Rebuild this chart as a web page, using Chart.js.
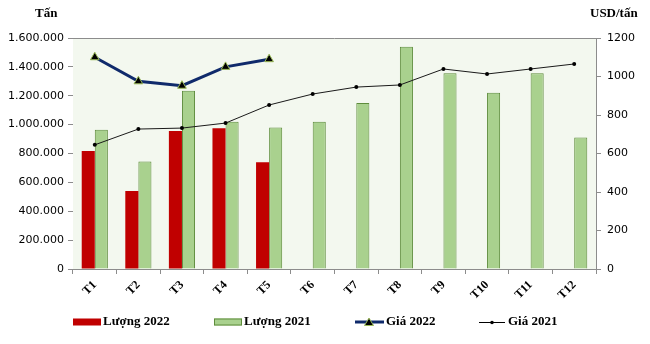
<!DOCTYPE html>
<html>
<head>
<meta charset="utf-8">
<script src="https://cdn.jsdelivr.net/npm/chart.js@4"></script>
<style>
  html, body { margin: 0; padding: 0; background: #fff; }
  #wrap { width: 650px; height: 344px; }
</style>
</head>
<body>
<div id="wrap"><canvas id="chart"></canvas></div>
<script>
const months = ['T1', 'T2', 'T3', 'T4', 'T5', 'T6', 'T7', 'T8', 'T9', 'T10', 'T11', 'T12'];
const luong2022 = [817000, 540000, 955000, 975000, 740000];
const luong2021 = [965000, 745000, 1235000, 1020000, 980000, 1020000, 1150000, 1540000, 1355000, 1220000, 1355000, 910000];
const gia2022 = [1100, 975, 952, 1050, 1090];
const gia2021 = [645, 727, 732, 758, 852, 909, 945, 956, 1039, 1013, 1039, 1065];

const serifBold = 'bold 13px "Liberation Serif", "Times New Roman", serif';

function dotted(n) {
  return String(n).replace(/\B(?=(\d{3})+(?!\d))/g, '.');
}

const frame = {
  id: 'frame',
  beforeDatasetsDraw(chart) {
    const { ctx, chartArea: a } = chart;
    ctx.save();
    ctx.fillStyle = '#f3f8ef';
    ctx.fillRect(a.left, a.top, a.right - a.left, a.bottom - a.top);
    ctx.strokeStyle = '#8c8c8c';
    ctx.lineWidth = 1;
    ctx.beginPath();
    ctx.moveTo(a.left, a.top + 0.5);
    ctx.lineTo(a.right, a.top + 0.5);
    ctx.stroke();
    ctx.restore();
  },
  afterDraw(chart) {
    const { ctx } = chart;
    ctx.save();
    ctx.font = serifBold;
    ctx.fillStyle = '#000';
    ctx.textBaseline = 'middle';
    ctx.textAlign = 'left';
    ctx.fillText('Tấn', 35, 14);
    ctx.fillText('USD/tấn', 590, 14);

    // legend
    const y = 322;
    ctx.fillStyle = '#c00000';
    ctx.fillRect(73, y - 3.5, 28, 7);
    ctx.fillStyle = '#a9d18e';
    ctx.strokeStyle = '#5e8c3c';
    ctx.fillRect(214, y - 3.5, 28, 7);
    ctx.strokeRect(214.5, y - 3, 27, 6);

    ctx.strokeStyle = '#0f2a6b';
    ctx.lineWidth = 3;
    ctx.beginPath();
    ctx.moveTo(355, y);
    ctx.lineTo(384, y);
    ctx.stroke();
    ctx.fillStyle = '#000';
    ctx.strokeStyle = '#9bbb59';
    ctx.lineWidth = 1;
    ctx.beginPath();
    ctx.moveTo(369, y - 4);
    ctx.lineTo(373.5, y + 3.5);
    ctx.lineTo(364.5, y + 3.5);
    ctx.closePath();
    ctx.fill();
    ctx.stroke();

    ctx.strokeStyle = '#000';
    ctx.lineWidth = 1;
    ctx.beginPath();
    ctx.moveTo(479, y + 0.5);
    ctx.lineTo(505, y + 0.5);
    ctx.stroke();
    ctx.beginPath();
    ctx.arc(492, y + 0.5, 1.8, 0, Math.PI * 2);
    ctx.fill();

    ctx.fillStyle = '#000';
    ctx.font = serifBold;
    ctx.fillText('Lượng 2022', 103, y);
    ctx.fillText('Lượng 2021', 244, y);
    ctx.fillText('Giá 2022', 386, y);
    ctx.fillText('Giá 2021', 508, y);
    ctx.restore();
  }
};

new Chart(document.getElementById('chart'), {
  data: {
    labels: months,
    datasets: [
      {
        type: 'line', label: 'Giá 2022', data: gia2022, yAxisID: 'y1', order: 0,
        borderColor: '#0f2a6b', borderWidth: 3, tension: 0,
        pointStyle: 'triangle', pointRadius: 5, pointBackgroundColor: '#000',
        pointBorderColor: '#9bbb59', pointBorderWidth: 1
      },
      {
        type: 'line', label: 'Giá 2021', data: gia2021, yAxisID: 'y1', order: 1,
        borderColor: '#1a1a1a', borderWidth: 1, tension: 0,
        pointRadius: 2, pointBackgroundColor: '#000', pointBorderWidth: 0
      },
      {
        type: 'bar', label: 'Lượng 2022', data: luong2022, yAxisID: 'y', order: 2,
        backgroundColor: '#c00000', borderWidth: 0,
        categoryPercentage: 0.6, barPercentage: 1
      },
      {
        type: 'bar', label: 'Lượng 2021', data: luong2021, yAxisID: 'y', order: 3,
        backgroundColor: '#a9d18e', borderColor: '#5e8c3c', borderWidth: 1,
        categoryPercentage: 0.6, barPercentage: 1
      }
    ]
  },
  options: {
    responsive: true,
    maintainAspectRatio: false,
    animation: false,
    layout: { padding: { top: 38, left: 0, right: 0, bottom: 44 } },
    plugins: { legend: { display: false }, tooltip: { enabled: false } },
    scales: {
      x: {
        offset: true,
        grid: { display: true, drawOnChartArea: false, offset: true, tickLength: 5, color: '#8c8c8c' },
        border: { display: true, color: '#8c8c8c' },
        ticks: {
          color: '#000', maxRotation: 45, minRotation: 45, padding: 4,
          font: { family: '"Liberation Serif", "Times New Roman", serif', size: 12, weight: 'bold' }
        },
        afterFit(s) { s.height = 31; }
      },
      y: {
        position: 'left', min: 0, max: 1600000,
        grid: { display: true, drawOnChartArea: false, tickLength: 5, color: '#8c8c8c' },
        border: { display: true, color: '#8c8c8c' },
        ticks: {
          stepSize: 200000, color: '#000', padding: 4,
          font: { family: '"DejaVu Sans", Verdana, sans-serif', size: 11 },
          callback: v => dotted(v)
        },
        afterFit(s) { s.width = 73; }
      },
      y1: {
        position: 'right', min: 0, max: 1200,
        grid: { display: true, drawOnChartArea: false, tickLength: 5, color: '#8c8c8c' },
        border: { display: true, color: '#8c8c8c', width: 1 },
        ticks: {
          stepSize: 200, color: '#000', padding: 6,
          font: { family: '"DejaVu Sans", Verdana, sans-serif', size: 11 },
          callback: v => String(v)
        },
        afterFit(s) { s.width = 54; }
      }
    }
  },
  plugins: [frame]
});
</script>
</body>
</html>
